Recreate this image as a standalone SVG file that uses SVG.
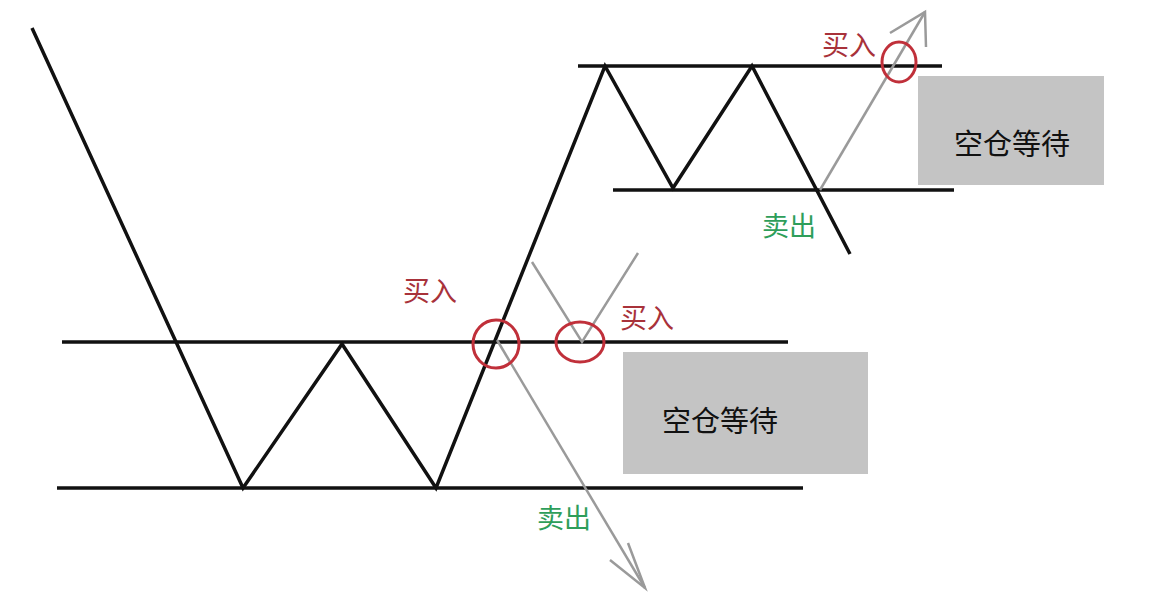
<svg xmlns="http://www.w3.org/2000/svg" width="1152" height="604" viewBox="0 0 1152 604">
<style>
.blk{stroke:#111;stroke-width:3.5;fill:none;stroke-linejoin:miter}
.gry{stroke:#9a9a9a;stroke-width:2.5;fill:none}
.circ{stroke:#c0303a;stroke-width:3;fill:none}
.box{fill:#c4c4c4}
.boxt{font-family:"Noto Sans CJK SC",sans-serif;font-size:29px;fill:#111;text-anchor:middle}
.buy{font-family:"Noto Sans CJK SC",sans-serif;font-size:27px;fill:#a8323a}
.sell{font-family:"Noto Sans CJK SC",sans-serif;font-size:27px;fill:#2e9e5a}
</style>
<rect width="1152" height="604" fill="#fff"/>
<g id="boxes">
<g id="box-lower"><rect class="box" x="623" y="352" width="245" height="122"/><text class="boxt" x="720" y="432">空仓等待</text></g>
<g id="box-upper"><rect class="box" x="918" y="76" width="186" height="109"/><text class="boxt" x="1012" y="155">空仓等待</text></g>
</g>
<g id="connectors">
<line class="blk" x1="62" y1="342" x2="788" y2="342"/>
<line class="blk" x1="57" y1="488" x2="803" y2="488"/>
<line class="blk" x1="578" y1="66" x2="942" y2="66"/>
<line class="blk" x1="613" y1="190" x2="954" y2="190"/>
<polyline class="blk" points="32,28 243,488 342,344 436,488 605,66 673,188 752,66 850,254"/>
<polyline class="gry" points="532,262 582,342 638,253"/>
<line class="gry" x1="497" y1="340" x2="645" y2="588"/>
<polyline class="gry" points="610,560 645,588 628,543"/>
<line class="gry" x1="820" y1="190" x2="925" y2="12"/>
<polyline class="gry" points="890,33 925,12 926,47"/>
</g>
<g id="markers">
<ellipse class="circ" cx="496" cy="344" rx="23" ry="24"/>
<ellipse class="circ" cx="580" cy="342" rx="24" ry="20"/>
<ellipse class="circ" cx="899" cy="62" rx="17" ry="20"/>
</g>
<g id="labels">
<text class="buy" x="403" y="301">买入</text>
<text class="buy" x="620" y="328">买入</text>
<text class="buy" x="822" y="55">买入</text>
<text class="sell" x="537" y="528">卖出</text>
<text class="sell" x="762" y="236">卖出</text>
</g>
</svg>
